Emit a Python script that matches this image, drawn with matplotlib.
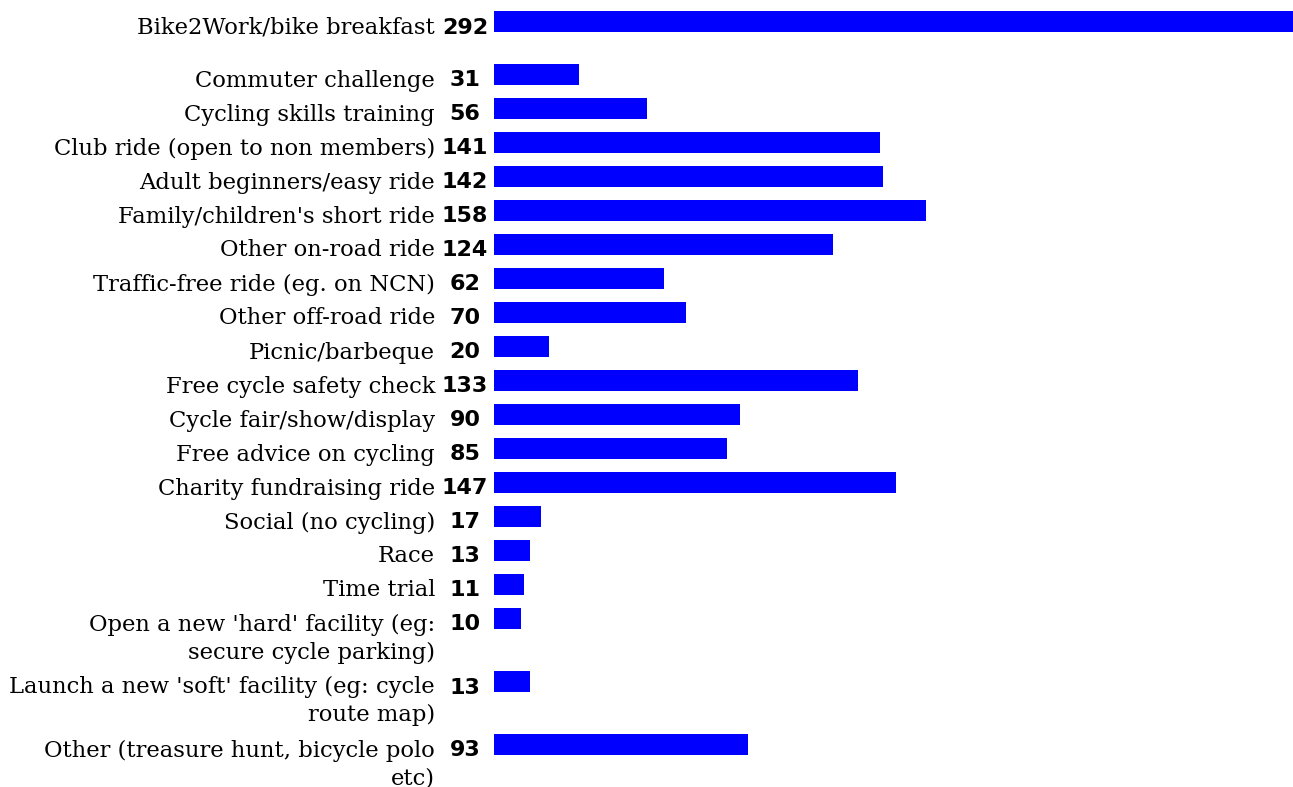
import matplotlib.pyplot as plt

labels = [
    "Bike2Work/bike breakfast",
    "Commuter challenge",
    "Cycling skills training",
    "Club ride (open to non members)",
    "Adult beginners/easy ride",
    "Family/children's short ride",
    "Other on-road ride",
    "Traffic-free ride (eg. on NCN)",
    "Other off-road ride",
    "Picnic/barbeque",
    "Free cycle safety check",
    "Cycle fair/show/display",
    "Free advice on cycling",
    "Charity fundraising ride",
    "Social (no cycling)",
    "Race",
    "Time trial",
    "Open a new 'hard' facility (eg:\nsecure cycle parking)",
    "Launch a new 'soft' facility (eg: cycle\nroute map)",
    "Other (treasure hunt, bicycle polo\netc)",
]
counts = [292, 31, 56, 141, 142, 158, 124, 62, 70, 20, 133, 90, 85, 147, 17, 13, 11, 10, 13, 93]

W, H = 1293, 787
bar_left = 494          # pixel where bars start
row_line = 29           # row height added per label line
pad = 5
text_pitch = 28         # distance between text lines
first_gap = 19          # extra space after the first row

# row centres in pixels from the top, derived from the number of label lines
centres = []
y = 21.5
for i, lab in enumerate(labels):
    centres.append(y)
    y += row_line * (lab.count("\n") + 1) + pad
    if i == 0:
        y += first_gap

fig = plt.figure(figsize=(W / 100, H / 100), dpi=100)
ax = fig.add_axes([bar_left / W, 0, 1 - bar_left / W, 1])
ax.set_xlim(0, max(counts))
ax.set_ylim(H, 0)
ax.axis("off")

ax.barh(centres, counts, height=21, color="#0000ff")

px = 0.72  # points per pixel at 100 dpi
for yc, lab, n in zip(centres, labels, counts):
    # one annotation per line so the line pitch matches the rows
    for k, line in enumerate(lab.split("\n")):
        ax.annotate(line, xy=(0, yc), xycoords=("axes fraction", "data"),
                    xytext=(-59 * px, -(12 + k * text_pitch) * px),
                    textcoords="offset points",
                    ha="right", va="baseline", family="DejaVu Serif",
                    fontsize=16.3)
    ax.annotate(str(n), xy=(0, yc), xycoords=("axes fraction", "data"),
                xytext=(-29 * px, -12 * px), textcoords="offset points",
                ha="center", va="baseline", family="DejaVu Sans",
                fontweight="bold", fontsize=16)

fig.savefig("out.png", dpi=100)
